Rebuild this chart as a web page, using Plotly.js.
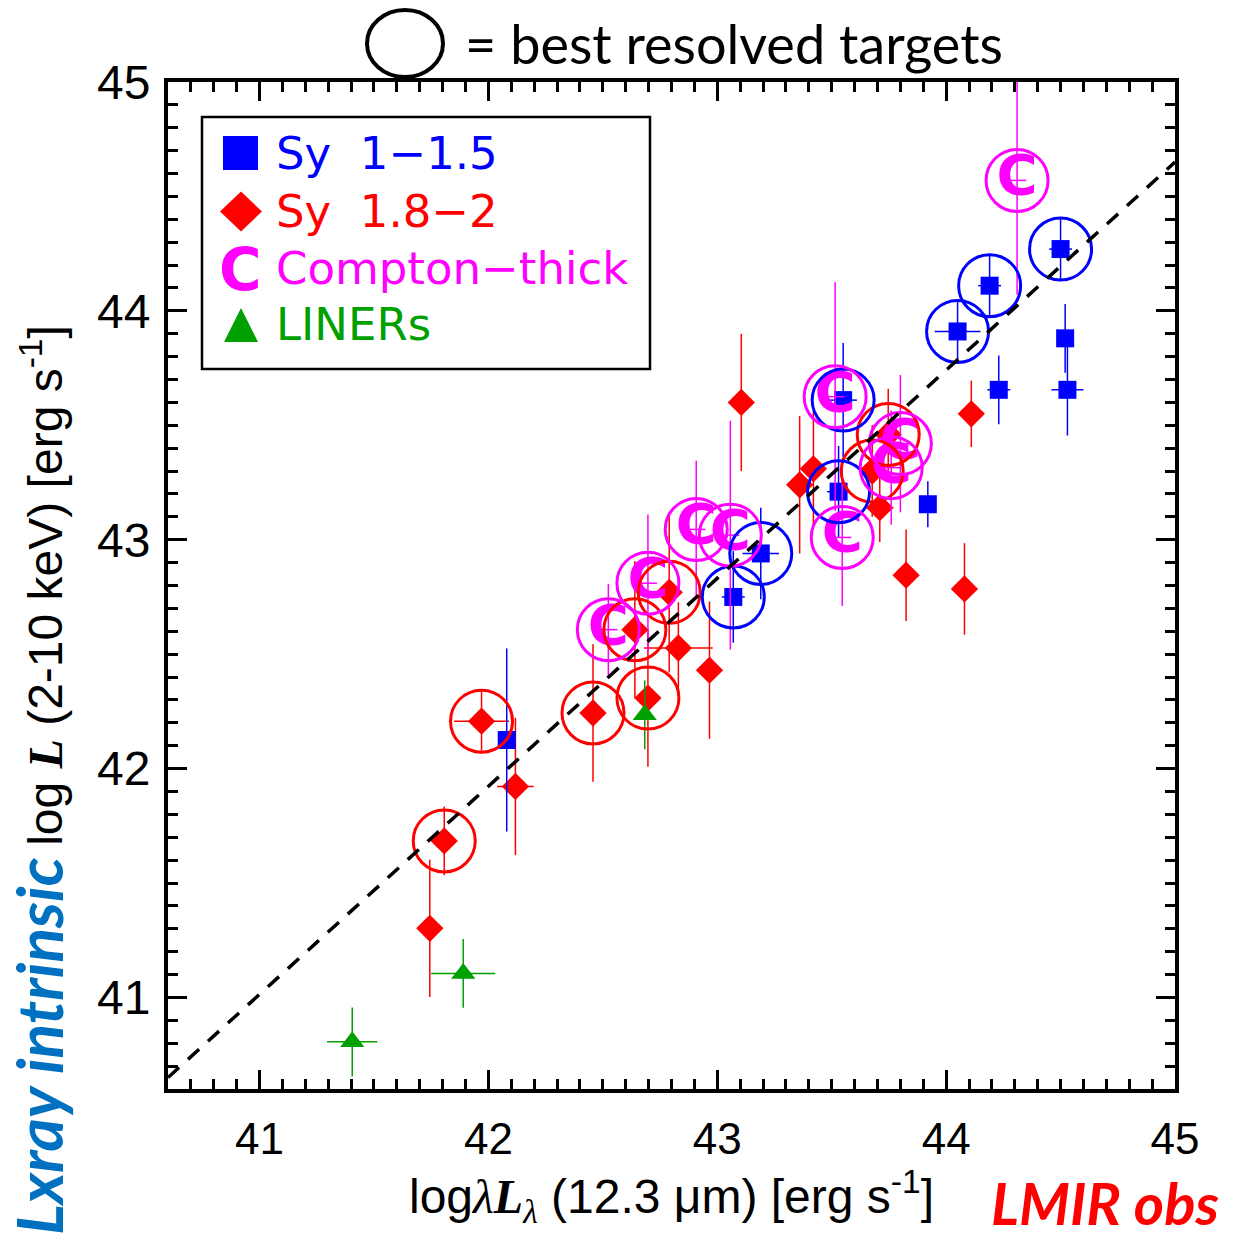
<!DOCTYPE html>
<html><head><meta charset="utf-8">
<script src="https://cdn.plot.ly/plotly-3.0.1.min.js"></script>
<style>html,body{margin:0;padding:0;background:#fff;}#chart{width:1234px;height:1239px;}</style>
</head><body><div id="chart"></div>
<script>
// ---- data ----
// Sy 1-1.5 (blue squares)
const sy1X    = [44.50, 44.19, 44.05, 44.52, 44.23, 44.53, 43.55, 43.53, 43.92, 43.19, 43.07, 42.08];
const sy1Y    = [44.27, 44.11, 43.91, 43.88, 43.655, 43.655, 43.61, 43.21, 43.155, 42.94, 42.75, 42.125];
const sy1XErr = [0.05, 0.05, 0.10, 0.03, 0.05, 0.07, 0.06, 0.05, 0.03, 0.08, 0.05, 0.02];
const sy1YErr = [0.14, 0.14, 0.13, 0.15, 0.15, 0.20, 0.25, 0.20, 0.10, 0.20, 0.20, 0.40];
const sy1Best = [1, 1, 1, 0, 0, 0, 1, 1, 0, 1, 1, 0];
// Sy 1.8-2 (red diamonds)
const sy2X    = [43.105, 44.11, 43.42, 43.36, 43.747, 43.677, 43.71, 43.825, 44.08, 42.79, 42.64, 42.83, 42.966, 42.457, 42.697, 41.97, 42.118, 41.807, 41.744];
const sy2Y    = [43.60, 43.55, 43.31, 43.24, 43.46, 43.30, 43.14, 42.845, 42.785, 42.77, 42.607, 42.527, 42.43, 42.243, 42.308, 42.207, 41.922, 41.684, 41.302];
const sy2XErr = [0.0, 0.0, 0.0, 0.0, 0.03, 0.03, 0.06, 0.0, 0.0, 0.05, 0.03, 0.15, 0.0, 0.0, 0.0, 0.12, 0.08, 0.0, 0.0];
const sy2YErr = [0.30, 0.145, 0.25, 0.30, 0.20, 0.20, 0.15, 0.20, 0.20, 0.35, 0.30, 0.20, 0.30, 0.30, 0.30, 0.14, 0.30, 0.15, 0.30];
const sy2Best = [0, 0, 0, 0, 1, 1, 0, 0, 0, 1, 1, 0, 0, 1, 1, 1, 0, 1, 0];
// Compton-thick (magenta C, all circled)
const ctX    = [44.31, 43.515, 43.546, 43.80, 43.76, 42.908, 43.057, 42.697, 42.524];
const ctY    = [44.57, 43.625, 43.01, 43.42, 43.315, 43.045, 43.02, 42.81, 42.607];
const ctXErr = [0.04, 0.04, 0.04, 0.04, 0.04, 0.04, 0.04, 0.04, 0.04];
const ctYErr = [0.50, 0.50, 0.30, 0.30, 0.25, 0.30, 0.50, 0.30, 0.20];
// LINERs (green triangles)
const linX    = [41.405, 41.89, 42.683];
const linY    = [40.806, 41.105, 42.235];
const linXErr = [0.11, 0.14, 0.0];
const linYErr = [0.15, 0.15, 0.15];
// dashed relation
const fitX = [40.6, 45.0];
const fitY = [40.65, 44.65];
// ticks
const xTicks = [41, 42, 43, 44, 45];
const xTickText = ['41', '42', '43', '44', '45'];
const yTicks = [41, 42, 43, 44, 45];
const yTickText = ['41', '42', '43', '44', '45'];
// legend labels
const legendLabels = ['Sy\u00a0\u00a01\u22121.5', 'Sy\u00a0\u00a01.8\u22122', 'Compton\u2212thick', 'LINERs'];

// ---- colours / helpers ----
const BLUE = '#0000FF', RED = '#FF0000', MAG = '#FF00FF', GREEN = '#00A000';
const W = 1234, H = 1239, ML = 168, MR = 59, MT = 82, MB = 150;
const PW = W - ML - MR, PH = H - MT - MB;
const px = x => (x - ML) / PW;
const py = y => (H - MB - y) / PH;
const pick = (arr, flags) => arr.filter((_, i) => flags[i]);

function errTrace(x, y, ex, ey, color, marker, mode, extra) {
  return Object.assign({
    type: 'scatter', mode: mode, x: x, y: y, showlegend: false, hoverinfo: 'skip',
    marker: marker,
    error_x: {type: 'data', array: ex, symmetric: true, width: 0, thickness: 1.5, color: color},
    error_y: {type: 'data', array: ey, symmetric: true, width: 0, thickness: 1.5, color: color}
  }, extra || {});
}
function ringTrace(x, y, color) {
  return {type: 'scatter', mode: 'markers', x: x, y: y, showlegend: false, hoverinfo: 'skip',
    marker: {symbol: 'circle-open', size: 62, color: color, line: {color: color, width: 3}}};
}

const traces = [
  errTrace(sy2X, sy2Y, sy2XErr, sy2YErr, RED, {symbol: 'diamond', size: 21, color: RED}, 'markers'),
  errTrace(linX, linY, linXErr, linYErr, GREEN, {symbol: 'triangle-up', size: 21, color: GREEN}, 'markers'),
  errTrace(sy1X, sy1Y, sy1XErr, sy1YErr, BLUE, {symbol: 'square', size: 18, color: BLUE}, 'markers'),
  errTrace(ctX, ctY, ctXErr, ctYErr, MAG, {size: 1, color: MAG}, 'text',
    {text: ctX.map(() => 'C'), textposition: 'middle center',
     textfont: {family: 'DejaVu Sans', size: 56, color: MAG, weight: 'bold'}}),
  ringTrace(pick(sy2X, sy2Best), pick(sy2Y, sy2Best), RED),
  ringTrace(pick(sy1X, sy1Best), pick(sy1Y, sy1Best), BLUE),
  ringTrace(ctX, ctY, MAG),
  {type: 'scatter', mode: 'lines', x: fitX, y: fitY, showlegend: false, hoverinfo: 'skip',
   line: {color: '#000', width: 3.5, dash: '15px,12px'}}
];

const axisCommon = {
  range: [40.6, 45], tickmode: 'array', ticks: 'inside', ticklen: 19, tickwidth: 3, tickcolor: '#000',
  showline: true, linewidth: 4, linecolor: '#000', mirror: 'ticks', showgrid: false, zeroline: false,
  minor: {tickmode: 'linear', tick0: 41, dtick: 0.1, ticks: 'inside', ticklen: 10, tickwidth: 3, tickcolor: '#000', showgrid: false}
};

const serifL = "<span style=\"font-family:'Liberation Serif',serif;font-style:italic;font-weight:bold\">L</span>";
const serifLam = "<span style=\"font-family:'Liberation Serif',serif;font-style:italic\">\u03bb</span>";

const layout = {
  width: W, height: H,
  margin: {l: ML, r: MR, t: MT, b: MB, pad: 0},
  paper_bgcolor: '#fff', plot_bgcolor: '#fff',
  font: {family: 'Liberation Sans, Arial, sans-serif', color: '#000'},
  xaxis: Object.assign({}, axisCommon, {
    tickvals: xTicks, ticktext: xTickText, ticklabelstandoff: 8,
    tickfont: {family: 'Liberation Sans, Arial, sans-serif', size: 44, color: '#000'},
    title: {text: 'log' + serifLam + serifL + '<sub>' + serifLam + '</sub> (12.3 \u03bcm) [erg s<sup>-1</sup>]',
            font: {family: 'Liberation Sans, Arial, sans-serif', size: 48, color: '#000'}, standoff: 6}
  }),
  yaxis: Object.assign({}, axisCommon, {
    tickvals: yTicks, ticktext: yTickText, ticklabelstandoff: 4,
    tickfont: {family: 'Liberation Sans, Arial, sans-serif', size: 48, color: '#000'},
    title: {text: 'log ' + serifL + ' (2-10 keV) [erg s<sup>-1</sup>]',
            font: {family: 'Liberation Sans, Arial, sans-serif', size: 48, color: '#000'}, standoff: 20}
  }),
  shapes: [
    // "best resolved" symbol
    {type: 'circle', xref: 'paper', yref: 'paper', x0: px(367), x1: px(443), y0: py(77), y1: py(10),
     line: {color: '#000', width: 4}},
    // legend box
    {type: 'rect', xref: 'paper', yref: 'paper', x0: px(202), x1: px(650), y0: py(369), y1: py(117),
     line: {color: '#000', width: 2.5}, fillcolor: 'rgba(0,0,0,0)'},
    {type: 'rect', xref: 'paper', yref: 'paper', x0: px(223), x1: px(258), y0: py(170), y1: py(136),
     line: {width: 0}, fillcolor: BLUE},
    {type: 'path', xref: 'paper', yref: 'paper',
     path: `M ${px(220)},${py(211.5)} L ${px(241)},${py(191.5)} L ${px(262)},${py(211.5)} L ${px(241)},${py(231.5)} Z`,
     line: {width: 0}, fillcolor: RED},
    {type: 'path', xref: 'paper', yref: 'paper',
     path: `M ${px(224)},${py(342)} L ${px(241)},${py(308)} L ${px(258)},${py(342)} Z`,
     line: {width: 0}, fillcolor: GREEN}
  ],
  annotations: [
    {xref: 'paper', yref: 'paper', x: px(463), y: py(43), xanchor: 'left', yanchor: 'middle', showarrow: false,
     text: '= best resolved targets', font: {family: 'Lato, sans-serif', size: 54, color: '#000'}},
    {xref: 'paper', yref: 'paper', x: px(274), y: py(153), xanchor: 'left', yanchor: 'middle', showarrow: false,
     text: legendLabels[0], font: {family: 'DejaVu Sans', size: 45, color: BLUE}},
    {xref: 'paper', yref: 'paper', x: px(274), y: py(211), xanchor: 'left', yanchor: 'middle', showarrow: false,
     text: legendLabels[1], font: {family: 'DejaVu Sans', size: 45, color: RED}},
    {xref: 'paper', yref: 'paper', x: px(274), y: py(268), xanchor: 'left', yanchor: 'middle', showarrow: false,
     text: legendLabels[2], font: {family: 'DejaVu Sans', size: 45, color: MAG}},
    {xref: 'paper', yref: 'paper', x: px(274), y: py(324), xanchor: 'left', yanchor: 'middle', showarrow: false,
     text: legendLabels[3], font: {family: 'DejaVu Sans', size: 45, color: GREEN}},
    {xref: 'paper', yref: 'paper', x: px(240), y: py(270), xanchor: 'center', yanchor: 'middle', showarrow: false,
     text: 'C', font: {family: 'DejaVu Sans', size: 58, color: MAG, weight: 'bold'}},
    {xref: 'paper', yref: 'paper', x: px(38), y: py(1046), xanchor: 'center', yanchor: 'middle', showarrow: false,
     textangle: -90, text: 'Lxray intrinsic',
     font: {family: 'Lato, sans-serif', size: 64, color: '#0070C0', weight: 'bold', style: 'italic'}},
    {xref: 'paper', yref: 'paper', x: px(1105), y: py(1202), xanchor: 'center', yanchor: 'middle', showarrow: false,
     text: 'LMIR obs', font: {family: 'Lato, sans-serif', size: 58, color: RED, weight: 'bold', style: 'italic'}}
  ]
};

Plotly.newPlot('chart', traces, layout, {displayModeBar: false, staticPlot: true});
</script>
</body></html>
